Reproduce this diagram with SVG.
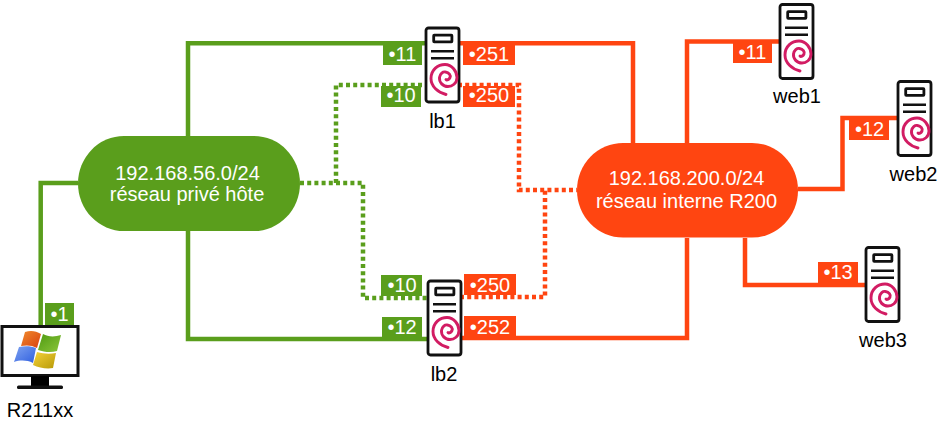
<svg xmlns="http://www.w3.org/2000/svg" width="937" height="421" viewBox="0 0 937 421">
<style>
text{font-family:"Liberation Sans",Arial,sans-serif;font-size:20px;text-anchor:middle}
.n{fill:#000}
.w{fill:#fff}
.g{fill:none;stroke:#5a9e1c;stroke-width:4.5}
.o{fill:none;stroke:#ff4511;stroke-width:4.5}
.d{stroke-dasharray:4 3.2}
.gb{fill:#5a9e1c}
.ob{fill:#ff4511}
</style>
<defs>
<symbol id="srv" width="38" height="78" viewBox="0 0 38 78" overflow="visible">
<rect x="2" y="2.500" width="33" height="74" rx="2.500" fill="#fff" stroke="#111" stroke-width="2.800"/>
<rect x="9.700" y="9.700" width="18.200" height="6.600" rx="0.500" fill="#fff" stroke="#111" stroke-width="2.800"/>
<path d="M7 25.700H30M7 32.700H30" stroke="#111" stroke-width="2.600" fill="none"/>
<path d="M22 69C14 67 7 61 7 53C7 44 14 39 21 39C28 39 33 46 33 52C33 58 28 61 24 61C19 61 15 57 15.500 52C16 48 19 46 21.500 46.500C25 47 27 50 26 52C25 54 23 55 22 54" fill="none" stroke="#d21c63" stroke-width="2.900" stroke-linecap="round"/>
</symbol>
<linearGradient id="wr" x1="0" y1="0" x2="1" y2="1"><stop offset="0" stop-color="#f08a2c"/><stop offset="1" stop-color="#d8400f"/></linearGradient>
<linearGradient id="wg" x1="0" y1="0" x2="1" y2="1"><stop offset="0" stop-color="#4e9a12"/><stop offset="1" stop-color="#8cc63a"/></linearGradient>
<linearGradient id="wb" x1="0" y1="0" x2="1" y2="1"><stop offset="0" stop-color="#7ea2f0"/><stop offset="1" stop-color="#2f5fe0"/></linearGradient>
<linearGradient id="wy" x1="0" y1="0" x2="1" y2="1"><stop offset="0" stop-color="#f5d23a"/><stop offset="1" stop-color="#b89a08"/></linearGradient>
</defs>
<g id="connectors">
<path class="g" d="M188 136V43.300H427"/>
<path class="g" d="M188 231V339H429"/>
<path class="g" d="M78 183H40.700V327"/>
<path class="g d" d="M300 183H363V298H429"/>
<path class="g d" d="M336 183V85H427"/>
<path class="o" d="M458 43.300H633V143"/>
<path class="o d" d="M458 85H519V190H577"/>
<path class="o d" d="M460 297H545V190"/>
<path class="o" d="M460 338H687V238"/>
<path class="o" d="M687 143V41.500H781"/>
<path class="o" d="M798 189H842.500V118H899"/>
<path class="o" d="M745 238V285H866"/>
</g>
<g id="net-prive">
<rect x="78" y="136" width="222" height="95" rx="46" ry="47.500" class="gb"/>
<text class="w" x="187.500" y="180">192.168.56.0/24</text>
<text class="w" x="187" y="201">réseau privé hôte</text>
</g>
<g id="net-interne">
<rect x="577" y="143" width="221" height="94.500" rx="46" ry="47" class="ob"/>
<text class="w" x="686.500" y="185">192.168.200.0/24</text>
<text class="w" x="686.500" y="208">réseau interne R200</text>
</g>
<g id="lb1">
<use href="#srv" x="424" y="25.500"/>
<text class="n" x="442.500" y="128">lb1</text>
<rect class="gb" x="383" y="44" width="39" height="21"/><text class="w" x="402.500" y="61">•11</text>
<rect class="gb" x="381" y="86" width="40" height="21"/><text class="w" x="401" y="102">•10</text>
<rect class="ob" x="463" y="44" width="52" height="21"/><text class="w" x="489" y="61">•251</text>
<rect class="ob" x="463" y="86" width="52" height="21"/><text class="w" x="489" y="102">•250</text>
</g>
<g id="lb2">
<use href="#srv" x="426" y="278.500"/>
<text class="n" x="444" y="381">lb2</text>
<rect class="gb" x="381" y="275" width="41" height="21"/><text class="w" x="402" y="292">•10</text>
<rect class="gb" x="382" y="317" width="40" height="20"/><text class="w" x="402" y="334">•12</text>
<rect class="ob" x="464" y="274" width="52" height="21"/><text class="w" x="490" y="292">•250</text>
<rect class="ob" x="464" y="316" width="52" height="21"/><text class="w" x="490" y="334">•252</text>
</g>
<g id="web1">
<use href="#srv" x="778" y="2"/>
<text class="n" x="797" y="103">web1</text>
<rect class="ob" x="733" y="43" width="39" height="20"/><text class="w" x="752.500" y="58.500">•11</text>
</g>
<g id="web2">
<use href="#srv" x="896" y="79"/>
<text class="n" x="913.500" y="181">web2</text>
<rect class="ob" x="849" y="120" width="40" height="20"/><text class="w" x="869.500" y="135.500">•12</text>
</g>
<g id="web3">
<use href="#srv" x="864" y="245"/>
<text class="n" x="883" y="347">web3</text>
<rect class="ob" x="818" y="262" width="40" height="21"/><text class="w" x="838" y="279">•13</text>
</g>
<g id="R211xx">
<rect x="2" y="326.500" width="76" height="49" fill="#fff" stroke="#111" stroke-width="3"/>
<rect x="31" y="376" width="18" height="11" fill="#000"/>
<rect x="17" y="385.500" width="46" height="3.500" rx="1.500" fill="#111"/>
<path d="M25 332C31 330 36 331 41 334L37 348C32 345 26 345 21 346Z" fill="url(#wr)"/>
<path d="M43 334C48 337 55 337 61 335L57 351C51 353 44 352 38 350Z" fill="url(#wg)"/>
<path d="M19 347C25 346 31 346 36 348L33 363C27 360 20 360 14 362Z" fill="url(#wb)"/>
<path d="M37 352C44 354 50 354 56 353L53 368C47 369 39 368 33 365Z" fill="url(#wy)"/>
<text class="n" x="40" y="416.500">R211xx</text>
<rect class="gb" x="45" y="303" width="29" height="22"/><text class="w" x="59.500" y="320.500">•1</text>
</g>
</svg>
